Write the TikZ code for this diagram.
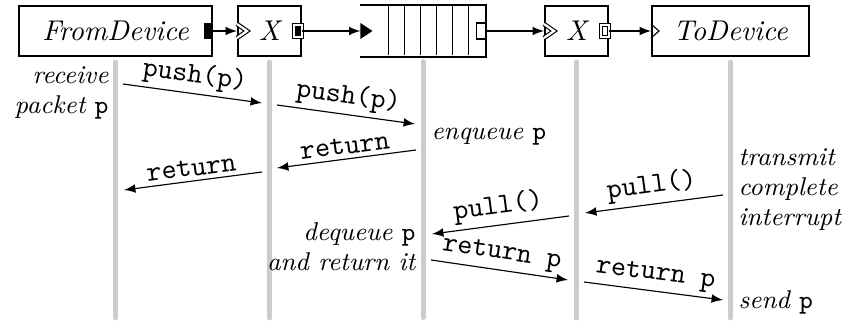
\documentclass[tikz,border=0pt]{standalone}
\usetikzlibrary{positioning}
\newcommand{\pkt}{\texttt{\upshape p}}
\begin{document}
\begin{tikzpicture}[x=0.35pt, y=-0.35pt, >=latex,
   element/.style={draw, line width=0.7pt, minimum height=17.5pt, inner sep=0pt, font=\itshape},
   lifeline/.style={line width=1.75pt, line cap=round, black!20},
   msg/.style={->, line width=0.4pt},
   call/.style={above, sloped, inner sep=1.5pt, font=\ttfamily},
   note/.style={inner sep=0pt, font=\itshape\fontsize{9}{10.5}\selectfont},
   agnostic/.style={line width=0.4pt, double, double distance=0.8pt}
   ]
   \useasboundingbox (0,0) rectangle (844,323);

   % elements
   \path (115.5,31) node[element, minimum width=67.55pt] (fd) {FromDevice}
   (269.5,31) node[element, minimum width=22.05pt] (x1) {X}
   (423,31) node[minimum width=43.4pt, minimum height=17.5pt, inner sep=0pt] (q) {}
   (576.5,31) node[element, minimum width=22.05pt] (x2) {X}
   (730.5,31) node[element, minimum width=54.95pt] (td) {ToDevice};

   % queue slots
   \draw[line width=0.7pt] (q.north west) -- (q.north east) -- (q.south east) -- (q.south west);
   \foreach \i in {28,44,...,108}
     \draw[line width=0.4pt] (q.north west) ++(\i,0) -- ++(0,50);

   % ports
   \fill (fd.east) ++(-9,-8) rectangle ++(9,16);
   \draw[agnostic] (x1.west) ++(0,-7) -- ++(10,7) -- ++(-10,7);
   \draw[agnostic, fill=black] (x1.east) ++(-8,-6) rectangle ++(8,12);
   \fill (q.west) ++(0,-8) -- ++(12,8) -- ++(-12,8) -- cycle;
   \draw[line width=0.4pt, fill=white] (q.east) ++(-9,-8) rectangle ++(9,16);
   \draw[agnostic] (x2.west) ++(0,-7) -- ++(10,7) -- ++(-10,7);
   \draw[agnostic, fill=white] (x2.east) ++(-8,-6) rectangle ++(8,12);
   \draw[line width=0.4pt] (td.west) ++(0,-7) -- ++(8,7) -- ++(-8,7);

   \draw[msg] (fd.east) -- (x1.west);
   \draw[msg] (x1.east) -- (q.west);
   \draw[msg] (q.east) -- (x2.west);
   \draw[msg] (x2.east) -- (td.west);

   % lifelines
   \foreach \n in {fd,x1,q,x2,td}
     \draw[lifeline] (\n.south) ++(0,5) -- ++(0,256);

   % calls
   \path (123,84) coordinate (push1s) (262,103) coordinate (push1e)
   (277,105) coordinate (push2s) (415,124) coordinate (push2e)
   (416,150) coordinate (ret2s) (277,168) coordinate (ret2e)
   (262,172) coordinate (ret1s) (124,190) coordinate (ret1e)
   (723,195) coordinate (pull1s) (585,213) coordinate (pull1e)
   (569,216) coordinate (pull2s) (432,234) coordinate (pull2e)
   (431,260) coordinate (retp2s) (568,280) coordinate (retp2e)
   (584,282) coordinate (retp1s) (723,300) coordinate (retp1e);

   \draw[msg] (push1s) -- node[call] {push(p)} (push1e);
   \draw[msg] (push2s) -- node[call] {push(p)} (push2e);
   \draw[msg] (ret2s) -- node[call] {return} (ret2e);
   \draw[msg] (ret1s) -- node[call] {return} (ret1e);
   \draw[msg] (pull1s) -- node[call] {pull()} (pull1e);
   \draw[msg] (pull2s) -- node[call] {pull()} (pull2e);
   \draw[msg] (retp2s) -- node[call] {return p} (retp2e);
   \draw[msg] (retp1s) -- node[call] {return p} (retp1e);

   % notes
   \node[note, align=right, anchor=east] (rcv) at (109,93) {receive\\packet \pkt};
   \node[note, anchor=west] (enq) at (431,137) {enqueue \pkt};
   \node[note, align=left, anchor=west] (intr) at (738,190) {transmit\\complete\\interrupt};
   \node[note, align=right, anchor=east] (deq) at (416,247) {dequeue \pkt\\and return it};
   \node[note, anchor=west] (snd) at (738,302) {send \pkt};
\end{tikzpicture}
\end{document}
